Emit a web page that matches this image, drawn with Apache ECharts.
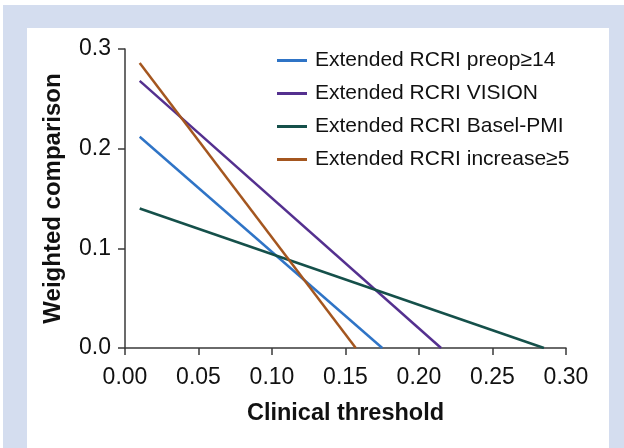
<!DOCTYPE html>
<html>
<head>
<meta charset="utf-8">
<script src="https://cdn.jsdelivr.net/npm/echarts@6/dist/echarts.min.js"></script>
<style>
html,body{margin:0;padding:0;background:#fff;}
#chart{width:624px;height:448px;}
</style>
</head>
<body>
<div id="chart"></div>
<script>
// ---- data ----
const seriesNames = ["Extended RCRI preop\u226514", "Extended RCRI VISION", "Extended RCRI Basel-PMI", "Extended RCRI increase\u22655"];
const preopX = [0.01, 0.175];
const preopY = [0.212, 0.0];
const visionX = [0.01, 0.215];
const visionY = [0.268, 0.0];
const baselX = [0.01, 0.285];
const baselY = [0.140, 0.0];
const increaseX = [0.01, 0.157];
const increaseY = [0.286, 0.0];
const xAxisTitle = "Clinical threshold";
const yAxisTitle = "Weighted comparison";

const colors = ["#2F74C6", "#54308F", "#15504A", "#A4561F"];
const FONT = "'Liberation Sans', Arial, Helvetica, sans-serif";

function pairs(xs, ys) { return xs.map((x, i) => [x, ys[i]]); }
const allX = [preopX, visionX, baselX, increaseX];
const allY = [preopY, visionY, baselY, increaseY];

const chart = echarts.init(document.getElementById('chart'), null, {renderer: 'canvas'});
chart.setOption({
  animation: false,
  backgroundColor: '#ffffff',
  color: colors,
  graphic: [
    {type: 'rect', z: -10, silent: true, shape: {x: 3, y: 5, width: 621, height: 443}, style: {fill: '#D4DDEF'}},
    {type: 'rect', z: -9, silent: true, shape: {x: 27, y: 28, width: 582, height: 420}, style: {fill: '#ffffff'}}
  ],
  grid: {left: 125, right: 58, top: 49, bottom: 100, containLabel: false},
  legend: {
    orient: 'vertical',
    left: 277, top: 50, padding: 0,
    itemWidth: 30, itemHeight: 3, itemGap: 12,
    icon: 'rect',
    textStyle: {fontFamily: FONT, fontSize: 21, color: '#111', padding: [0, 0, 0, 3]},
    data: seriesNames
  },
  xAxis: {
    type: 'value', min: 0, max: 0.3, interval: 0.05,
    name: xAxisTitle, nameLocation: 'middle', nameGap: 54,
    nameTextStyle: {fontFamily: FONT, fontSize: 23.5, fontWeight: 'bold', color: '#111'},
    axisLine: {show: true, lineStyle: {color: '#3a3a3a', width: 1.5}},
    axisTick: {show: true, length: 7, lineStyle: {color: '#3a3a3a', width: 1.5}},
    axisLabel: {fontFamily: FONT, fontSize: 23, color: '#111', margin: 18, formatter: v => v.toFixed(2)},
    splitLine: {show: false}
  },
  yAxis: {
    type: 'value', min: 0, max: 0.3, interval: 0.1,
    name: yAxisTitle, nameLocation: 'middle', nameGap: 60,
    nameTextStyle: {fontFamily: FONT, fontSize: 24, fontWeight: 'bold', color: '#111'},
    axisLine: {show: true, lineStyle: {color: '#3a3a3a', width: 1.5}},
    axisTick: {show: true, length: 7, lineStyle: {color: '#3a3a3a', width: 1.5}},
    axisLabel: {fontFamily: FONT, fontSize: 23, color: '#111', margin: 14, formatter: v => v.toFixed(1)},
    splitLine: {show: false}
  },
  series: seriesNames.map((n, i) => ({
    name: n, type: 'line', showSymbol: false, symbol: 'none',
    lineStyle: {width: 2.5, color: colors[i]},
    data: pairs(allX[i], allY[i])
  }))
});
</script>
</body>
</html>
